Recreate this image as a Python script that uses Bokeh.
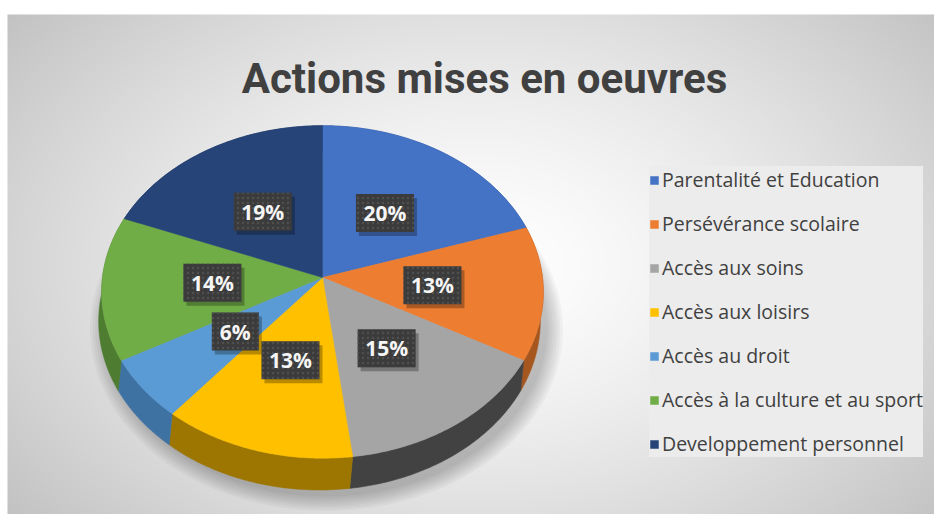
import numpy as np
from bokeh.plotting import figure
from bokeh.models import Range1d, ColumnDataSource, Legend, LegendItem, Label
from bokeh.embed import file_html
from bokeh.resources import INLINE
from bokeh.core.properties import value

# ---------------- data ----------------
title_text = "Actions mises en oeuvres"
categories = ["Parentalité et Education", "Persévérance scolaire", "Accès aux soins",
              "Accès aux loisirs", "Accès au droit", "Accès à la culture et au sport",
              "Developpement personnel"]
values = [20, 13, 15, 13, 6, 14, 19]
pct_labels = ["20%", "13%", "15%", "13%", "6%", "14%", "19%"]
top_colors = ["#4472C4", "#ED7D31", "#A5A5A5", "#FFC000", "#5B9BD5", "#70AD47", "#264478"]
side_colors = ["#2F5597", "#A6561F", "#424242", "#9C7600", "#3E72A3", "#4E7D32", "#1B3259"]

# ---------------- figure (data units == screen pixels) ----------------
W, H = 934, 514
p = figure(width=W, height=H, x_range=Range1d(0, W), y_range=Range1d(H, 0),
           output_backend="svg", toolbar_location=None, min_border=0,
           x_axis_location=None, y_axis_location=None)
p.grid.visible = False
p.outline_line_color = None
p.background_fill_color = "white"
p.border_fill_color = "white"

# background radial gradient (chart area)
gx0, gx1, gy0, gy1 = 7, W, 14, H
nx, ny = gx1 - gx0, gy1 - gy0
xx, yy = np.meshgrid(np.arange(nx) + 0.5, np.arange(ny) + 0.5)
d = np.sqrt(((xx - (478 - gx0)) / (940 * 0.62)) ** 2 + ((yy - ny / 2) / (516 * 0.75)) ** 2)
g = np.clip(255 - 58 * d ** 1.4, 188, 255).astype(np.uint32)
img = (np.uint32(255) << 24) | (g << 16) | (g << 8) | g
p.image_rgba(image=[img], x=gx0, y=gy0, dw=nx, dh=ny)

# ---------------- 3D pie geometry ----------------
cx, cy, rx, ry, persp, thick, shear = 322, 277, 220, 165, 0.087, 29, -3


def proj(theta, r=1.0, dz=0.0, sx=0.0):
    X = r * np.sin(theta)
    Y = r * np.cos(theta)
    k = 1.0 / (1.0 + persp * Y)
    return cx + sx + rx * X * k, cy - ry * Y * k + dz * k


total = float(sum(values))
fr = np.cumsum([0.0] + [v / total for v in values])
angles = 2 * np.pi * fr

# soft shadow under the pie
full = np.linspace(0, 2 * np.pi, 200)
for s in np.linspace(1.07, 1.0, 7):
    shx, shy = proj(full, r=s, dz=thick + 6, sx=4)
    p.patch(list(shx), list(shy), fill_color="#000000", fill_alpha=0.035, line_color=None)

# sides
side_xs, side_ys = [], []
for i in range(len(values)):
    th = np.linspace(angles[i], angles[i + 1], 80)
    tx, ty = proj(th)
    bx, by = proj(th[::-1], dz=thick, sx=shear)
    side_xs.append(list(np.concatenate([tx, bx])))
    side_ys.append(list(np.concatenate([ty, by])))
p.patches(xs="xs", ys="ys", fill_color="c", line_color="c", line_width=0.5,
          source=ColumnDataSource(dict(xs=side_xs, ys=side_ys, c=side_colors)))

# top faces
top_xs, top_ys = [], []
for i in range(len(values)):
    th = np.linspace(angles[i], angles[i + 1], 80)
    tx, ty = proj(th)
    top_xs.append([cx] + list(tx))
    top_ys.append([cy] + list(ty))
top_src = ColumnDataSource(dict(xs=top_xs, ys=top_ys, c=top_colors, name=categories))
top_r = p.patches(xs="xs", ys="ys", fill_color="c", line_color="c", line_width=0.5, source=top_src)

# data labels
mid = (angles[:-1] + angles[1:]) / 2
lx, ly = proj(mid, r=0.5)
bw = [11 * len(t) + 25 for t in pct_labels]
lab_src = ColumnDataSource(dict(x=list(lx), y=list(ly), xs=list(lx + 3), ys=list(ly + 4),
                                w=bw, t=pct_labels))
p.rect(x="xs", y="ys", width="w", height=38, width_units="screen", height_units="screen",
       fill_color="#000000", fill_alpha=0.28, line_color=None, source=lab_src)
p.rect(x="x", y="y", width="w", height=38, width_units="screen", height_units="screen",
       fill_color="#3b3b3b", line_color=None, hatch_pattern="dot", hatch_color="#4f4f4f",
       hatch_scale=5, hatch_weight=1, source=lab_src)
p.text(x="x", y="y", text="t", text_align="center", text_baseline="middle",
       text_color="#f5f5f5", text_font=value("Open Sans"), text_font_style="bold",
       text_font_size="21px", source=lab_src)

# title
p.add_layout(Label(x=484, y=78, text=title_text, text_align="center",
                   text_baseline="alphabetic", text_font="Roboto", text_font_style="bold",
                   text_font_size="42px", text_color="#404040"))

# legend
items = [LegendItem(label=categories[i], renderers=[top_r], index=i) for i in range(len(values))]
legend = Legend(items=items, location=(649, 57), orientation="vertical", margin=0,
                padding=9, spacing=17, label_height=26, glyph_height=10, glyph_width=10,
                label_standoff=3, label_text_font="Open Sans", label_text_font_size="19.5px",
                label_text_color="#404040", background_fill_color="#ececec",
                background_fill_alpha=1.0, border_line_color=None)
p.add_layout(legend)

open("out.html", "w").write(file_html(p, INLINE))
